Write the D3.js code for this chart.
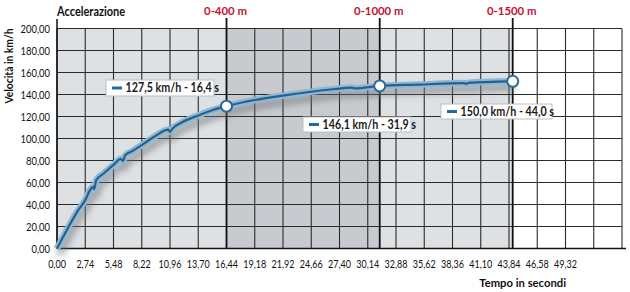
<!DOCTYPE html>
<html>
<head>
<meta charset="utf-8">
<script src="https://cdn.jsdelivr.net/npm/d3@7"></script>
<style>
  body { margin: 0; background: #fff; }
  text { font-family: Lato, "Open Sans", sans-serif; }
</style>
</head>
<body>
<div id="chart"></div>
<script>

// curve (time s, speed km/h)
var times  = [0, 1, 2, 2.74, 3.2, 3.5, 3.6, 3.8, 4.5, 5.48, 6.2, 6.4, 6.6, 7.3, 8.22, 9.5, 10.8, 10.96, 11.2, 12, 13.7, 15, 16.44, 19.18, 21.92, 24.66, 27, 28.6, 28.8, 31.3, 35, 39.5, 39.7, 39.9, 44.2];
var speeds = [0, 17.5, 34, 44, 53, 56, 54, 62, 68, 76, 81.5, 79.5, 84.5, 88.5, 94, 102, 108, 106, 109, 114, 121, 125.5, 129.4, 135, 139, 142.5, 145, 146.2, 145.6, 147.8, 149, 150.4, 149.6, 150.6, 152];

var xTicks = d3.range(0, 19).map(function (i) { return i * 2.74; });
var xGrid  = d3.range(0, 21).map(function (i) { return i * 2.74; });
var yTicks = d3.range(0, 201, 20);

var markTimes  = [16.44, 31.3, 44.2];
var markSpeeds = [129.4, 147.8, 152];
var markNames  = ["0-400 m", "0-1000 m", "0-1500 m"];
var markLabels = ["127,5 km/h - 16,4 s", "146,1 km/h - 31,9 s", "150,0 km/h - 44,0 s"];

var W = 630, H = 292;
var svg = d3.select("#chart").append("svg")
    .attr("width", W)
    .attr("height", H);

var x = d3.scaleLinear().domain([0, 54.8]).range([57, 622]);
var y = d3.scaleLinear().domain([0, 200]).range([248.5, 28.5]);

var fmt = function (v) { return v.toFixed(2).replace(".", ","); };

// the original face is narrower than anything installed, so squeeze text a bit
function squeeze(fx, fy, sx) {
    return function (d, i) {
        var px = typeof fx == "function" ? fx(d, i) : fx;
        var py = typeof fy == "function" ? fy(d, i) : fy;
        return "translate(" + px + "," + py + ") scale(" + sx + ",1)";
    };
}

// background bands
var bands = [
    [0, markTimes[0], "#dee1e4"],
    [markTimes[0], markTimes[1], "#c7cbcf"],
    [markTimes[1], markTimes[2], "#dee1e4"]
];
svg.selectAll("rect.band").data(bands).enter().append("rect")
    .attr("x", function (d) { return x(d[0]); })
    .attr("y", y(200))
    .attr("width", function (d) { return x(d[1]) - x(d[0]); })
    .attr("height", y(0) - y(200))
    .style("fill", function (d) { return d[2]; });

// grid
svg.selectAll("line.vg").data(xGrid).enter().append("line")
    .attr("x1", function (d) { return x(d); })
    .attr("x2", function (d) { return x(d); })
    .attr("y1", y(200))
    .attr("y2", y(0))
    .style("stroke", "#2b2b2b")
    .style("stroke-width", 1.1);

svg.selectAll("line.hg").data(yTicks).enter().append("line")
    .attr("x1", x(0))
    .attr("x2", x(54.8))
    .attr("y1", function (d) { return y(d); })
    .attr("y2", function (d) { return y(d); })
    .style("stroke", "#2b2b2b")
    .style("stroke-width", 1.1);

// axes lines
svg.append("line")
    .attr("x1", x(0)).attr("x2", x(0))
    .attr("y1", 19).attr("y2", y(0))
    .style("stroke", "#111").style("stroke-width", 1.5);
svg.append("line")
    .attr("x1", x(0)).attr("x2", 626)
    .attr("y1", y(0)).attr("y2", y(0))
    .style("stroke", "#111").style("stroke-width", 1.5);

// distance markers
svg.selectAll("line.mk").data(markTimes).enter().append("line")
    .attr("x1", function (d) { return x(d); })
    .attr("x2", function (d) { return x(d); })
    .attr("y1", 18)
    .attr("y2", y(0))
    .style("stroke", "#111")
    .style("stroke-width", 1.8);

svg.selectAll("text.mk").data(markNames).enter().append("text")
    .attr("transform", squeeze(function (d, i) { return x(markTimes[i]) - 1; }, 15, 0.95))
    .attr("text-anchor", "middle")
    .style("font-size", "12px")
    .style("font-weight", "bold")
    .style("fill", "#c41230")
    .text(function (d) { return d; });

// curve
var line = d3.line()
    .x(function (d, i) { return x(times[i]); })
    .y(function (d) { return y(d); })
    .curve(d3.curveMonotoneX);

var defs = svg.append("defs");
defs.append("filter").attr("id", "blur")
    .append("feGaussianBlur").attr("stdDeviation", 3);

svg.append("path")
    .attr("d", line(speeds))
    .attr("transform", "translate(2,6)")
    .attr("filter", "url(#blur)")
    .style("fill", "none")
    .style("stroke", "#6d7278")
    .style("stroke-opacity", 0.55)
    .style("stroke-width", 8);

svg.append("path")
    .attr("d", line(speeds))
    .style("fill", "none")
    .style("stroke", "#8fb6d2")
    .style("stroke-width", 6.5)
    .style("stroke-linejoin", "round");

svg.append("path")
    .attr("d", line(speeds))
    .style("fill", "none")
    .style("stroke", "#23628f")
    .style("stroke-width", 2.2)
    .style("stroke-linejoin", "round");

svg.selectAll("circle.mk").data(markSpeeds).enter().append("circle")
    .attr("cx", function (d, i) { return x(markTimes[i]); })
    .attr("cy", function (d) { return y(d); })
    .attr("r", 5.5)
    .style("fill", "#fff")
    .style("stroke", "#2a6b98")
    .style("stroke-width", 2);

// value boxes
var boxes = [
    { x: 106, y: 80, w: 108, h: 16 },
    { x: 303, y: 117, w: 108, h: 15 },
    { x: 441, y: 104, w: 111, h: 15 }
];
var bx = svg.selectAll("g.box").data(boxes).enter().append("g")
    .attr("transform", function (d) { return "translate(" + d.x + "," + d.y + ")"; });
bx.append("rect")
    .attr("width", function (d) { return d.w; })
    .attr("height", function (d) { return d.h; })
    .style("fill", "#fff")
    .style("stroke", "#b9bec3")
    .style("stroke-width", 1);
bx.append("line")
    .attr("x1", 6).attr("x2", 16)
    .attr("y1", function (d) { return d.h / 2; })
    .attr("y2", function (d) { return d.h / 2; })
    .style("stroke", "#1f6aa0")
    .style("stroke-width", 3);
bx.append("text")
    .attr("transform", squeeze(19.5, function (d) { return d.h / 2 + 4.4; }, 0.86))
    .style("font-size", "12.5px")
    .style("font-weight", "bold")
    .style("fill", "#1a1a1a")
    .text(function (d, i) { return markLabels[i]; });

// tick labels
svg.selectAll("text.yt").data(yTicks).enter().append("text")
    .attr("transform", squeeze(50, function (d) { return y(d) + 4; }, 0.86))
    .attr("text-anchor", "end")
    .style("font-size", "11px")
    .style("fill", "#111")
    .text(fmt);

svg.selectAll("text.xt").data(xTicks).enter().append("text")
    .attr("transform", squeeze(function (d) { return x(d); }, 268, 0.82))
    .attr("text-anchor", "middle")
    .style("font-size", "11px")
    .style("fill", "#111")
    .text(fmt);

// titles
svg.append("text")
    .attr("transform", "translate(57,16) scale(0.88,1)")
    .style("font-size", "12.5px")
    .style("font-weight", "bold")
    .style("fill", "#111")
    .text("Accelerazione");

svg.append("text")
    .attr("transform", "translate(13,66) rotate(-90) scale(0.86,1)")
    .attr("text-anchor", "middle")
    .style("font-size", "12px")
    .style("font-weight", "bold")
    .style("fill", "#111")
    .text("Velocità in km/h");

svg.append("text")
    .attr("transform", "translate(566,287) scale(0.98,1)")
    .attr("text-anchor", "end")
    .style("font-size", "11.5px")
    .style("font-weight", "bold")
    .style("fill", "#111")
    .text("Tempo in secondi");

</script>
</body>
</html>
